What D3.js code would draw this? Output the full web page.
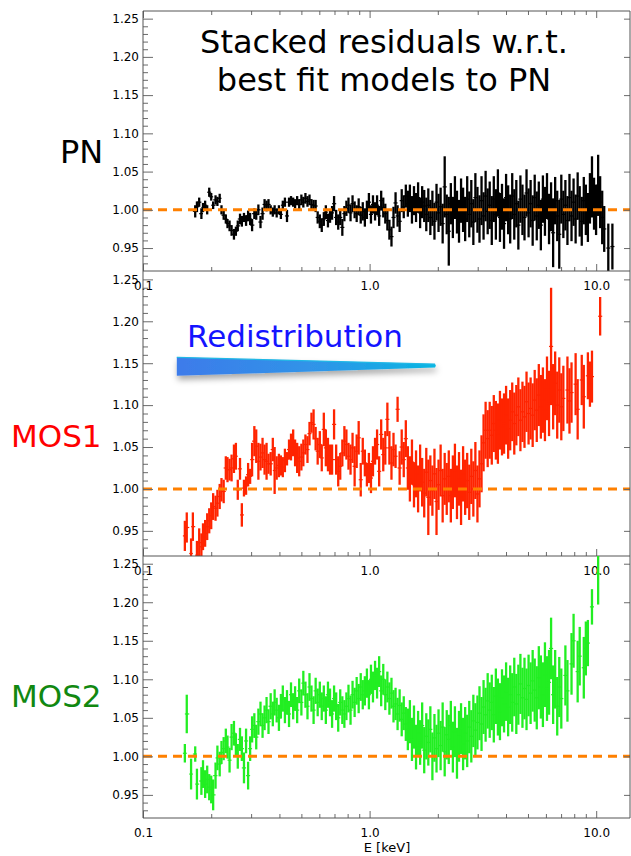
<!DOCTYPE html>
<html>
<head>
<meta charset="utf-8">
<script src="https://cdn.jsdelivr.net/npm/d3@7"></script>
<style>
  body { margin: 0; background: #fff; }
  svg { display: block; font-family: "DejaVu Sans", Verdana, sans-serif; }
</style>
</head>
<body>
<div id="chart"></div>
<script>
// channel energies (keV), shared by the three cameras
const energy = [
  0.150,0.153,0.156,0.160,0.163,0.166,0.170,0.173,0.177,0.181,
  0.184,0.188,0.192,0.196,0.200,0.204,0.209,0.213,0.218,0.222,
  0.227,0.232,0.236,0.241,0.246,0.252,0.257,0.262,0.268,0.273,
  0.279,0.285,0.291,0.297,0.303,0.310,0.316,0.323,0.330,0.337,
  0.344,0.351,0.358,0.366,0.374,0.381,0.389,0.398,0.406,0.414,
  0.423,0.432,0.441,0.450,0.460,0.469,0.479,0.489,0.500,0.510,
  0.521,0.532,0.543,0.554,0.566,0.578,0.590,0.603,0.615,0.628,
  0.641,0.655,0.669,0.683,0.697,0.712,0.727,0.742,0.758,0.774,
  0.790,0.807,0.824,0.841,0.859,0.877,0.895,0.914,0.933,0.953,
  0.973,0.993,1.014,1.035,1.057,1.079,1.102,1.125,1.149,1.173,
  1.198,1.223,1.249,1.275,1.302,1.329,1.357,1.386,1.415,1.445,
  1.475,1.506,1.538,1.570,1.603,1.637,1.671,1.706,1.742,1.779,
  1.816,1.854,1.893,1.933,1.974,2.015,2.058,2.101,2.145,2.190,
  2.236,2.283,2.331,2.380,2.430,2.481,2.533,2.586,2.641,2.696,
  2.753,2.811,2.870,2.930,2.992,3.055,3.119,3.184,3.251,3.320,
  3.389,3.461,3.533,3.608,3.683,3.761,3.840,3.920,4.003,4.087,
  4.173,4.260,4.350,4.441,4.534,4.630,4.727,4.826,4.927,5.031,
  5.136,5.244,5.354,5.467,5.582,5.699,5.819,5.941,6.066,6.193,
  6.323,6.456,6.591,6.730,6.871,7.015,7.163,7.313,7.467,7.623,
  7.783,7.947,8.114,8.284,8.458,8.636,8.817,9.002,9.191,9.384,
  9.581,9.783,9.988,10.20,10.41,10.63,10.85,11.08,11.31,11.55,
  11.79,12.04
];

// PN residuals (data / model) and 1-sigma errors
const pnRatio = [
  null,null,null,null,null,null,0.998,1.004,1.010,0.995,
  1.003,1.006,1.000,1.023,1.017,1.006,1.013,1.011,1.015,1.000,
  0.993,0.988,0.982,0.979,0.973,0.968,0.972,0.979,0.988,0.985,
  0.990,0.986,0.992,0.988,0.980,0.995,0.994,1.000,0.984,0.995,
  1.007,1.005,1.007,1.000,0.997,1.000,0.996,1.000,0.994,1.006,
  1.010,0.992,1.010,1.012,1.010,1.008,1.012,1.007,1.013,1.010,
  1.015,1.011,1.013,1.007,1.006,1.005,0.990,0.985,0.980,0.988,
  0.997,0.986,0.992,0.996,1.008,0.990,0.984,0.990,0.977,0.995,
  1.002,1.006,0.996,1.008,1.000,0.995,1.004,0.993,0.998,0.990,
  1.000,1.010,0.994,1.007,0.998,1.006,0.992,1.012,1.003,0.995,
  0.986,0.974,0.965,0.990,1.009,0.992,0.985,1.012,1.004,1.018,
  1.008,1.015,1.000,1.012,1.003,1.016,0.996,1.010,1.005,0.994,
  1.006,0.990,1.002,0.985,1.010,0.996,1.004,0.982,1.030,0.994,
  0.972,1.008,0.990,1.016,0.997,0.985,1.012,1.000,0.988,1.014,
  0.994,1.008,0.984,1.016,1.000,0.988,1.012,0.992,1.018,0.998,
  1.006,0.986,1.014,0.994,1.022,0.990,1.004,0.982,1.016,1.000,
  0.988,1.018,0.994,1.008,0.980,1.014,1.000,0.990,1.022,0.996,
  1.008,0.986,1.016,0.992,1.006,0.980,1.014,0.998,1.018,0.988,
  1.004,0.970,1.012,0.992,0.968,1.014,0.994,1.006,0.986,1.016,
  0.992,1.010,0.988,1.018,0.998,0.985,1.012,1.000,0.990,1.015,
  1.030,1.008,1.000,1.032,1.010,0.990,0.975,null,0.950,null,
  0.952,null
];
const pnErr = [
  null,null,null,null,null,null,0.008,0.007,0.006,0.007,
  0.006,0.006,0.006,0.006,0.005,0.005,0.006,0.006,0.006,0.006,
  0.006,0.006,0.006,0.007,0.007,0.007,0.006,0.007,0.007,0.007,
  0.006,0.007,0.007,0.008,0.008,0.007,0.007,0.007,0.008,0.008,
  0.007,0.007,0.007,0.006,0.006,0.006,0.006,0.006,0.006,0.006,
  0.006,0.008,0.006,0.006,0.006,0.006,0.006,0.007,0.007,0.007,
  0.007,0.007,0.007,0.007,0.007,0.008,0.008,0.009,0.009,0.009,
  0.009,0.009,0.009,0.009,0.010,0.010,0.010,0.010,0.011,0.010,
  0.010,0.010,0.011,0.011,0.011,0.011,0.011,0.011,0.012,0.012,
  0.012,0.012,0.012,0.012,0.012,0.013,0.013,0.013,0.013,0.013,
  0.013,0.013,0.013,0.014,0.014,0.014,0.014,0.015,0.015,0.015,
  0.017,0.018,0.018,0.019,0.019,0.020,0.020,0.021,0.021,0.022,
  0.022,0.023,0.023,0.024,0.024,0.025,0.025,0.026,0.040,0.026,
  0.045,0.027,0.027,0.028,0.028,0.028,0.029,0.029,0.029,0.030,
  0.030,0.031,0.030,0.032,0.030,0.031,0.032,0.031,0.033,0.030,
  0.031,0.032,0.030,0.033,0.031,0.032,0.030,0.033,0.031,0.032,
  0.032,0.030,0.033,0.031,0.032,0.031,0.033,0.030,0.031,0.032,
  0.031,0.033,0.030,0.032,0.031,0.033,0.031,0.032,0.030,0.033,
  0.032,0.045,0.031,0.033,0.045,0.032,0.031,0.033,0.032,0.031,
  0.033,0.031,0.032,0.031,0.033,0.032,0.031,0.033,0.032,0.033,
  0.040,0.034,0.033,0.040,0.034,0.035,0.030,null,0.032,null,
  0.030,null
];

// MOS1 residuals
const mos1Ratio = [
  null,0.944,0.954,null,0.923,0.955,null,0.921,0.936,0.931,
  0.943,0.947,0.955,0.962,0.968,0.979,0.977,0.983,0.991,0.999,
  0.997,1.025,1.023,1.023,1.025,1.036,1.039,0.999,1.024,0.969,
  1.001,1.004,1.017,1.015,1.035,1.057,1.051,1.033,1.038,1.043,
  1.035,1.033,1.030,1.030,1.047,1.022,1.025,1.028,1.028,1.026,
  1.034,1.036,1.047,1.050,1.055,1.043,1.037,1.033,1.038,1.043,
  1.053,1.047,1.066,1.079,1.077,1.060,1.045,1.053,1.037,1.071,
  1.049,1.041,1.035,1.035,1.077,1.035,1.021,1.027,1.043,1.057,
  1.053,1.039,1.035,1.049,1.027,1.045,1.061,1.011,1.045,1.031,
  1.017,1.025,1.013,1.033,1.045,1.053,1.021,1.065,1.041,1.049,
  1.083,1.049,1.031,1.047,1.039,1.095,1.025,1.050,1.035,1.060,
  1.025,1.012,1.032,1.005,1.018,1.000,1.025,1.008,0.995,1.020,
  0.990,1.010,0.998,1.018,0.985,1.005,1.022,0.992,1.012,1.000,
  1.015,0.992,1.008,1.022,0.996,1.012,0.990,1.018,1.002,1.010,
  0.996,1.015,1.000,1.022,0.994,1.012,1.030,1.055,1.070,1.060,
  1.070,1.064,1.078,1.070,1.066,1.082,1.074,1.078,1.088,1.072,
  1.082,1.092,1.078,1.088,1.098,1.082,1.092,1.086,1.104,1.090,
  1.096,1.088,1.106,1.094,1.112,1.098,1.106,1.094,1.120,1.102,
  1.170,1.110,1.126,1.100,1.118,1.098,1.108,null,1.118,1.105,
  1.115,null,1.125,1.095,null,1.130,1.110,null,1.135,1.125,
  1.134,null,null,null,1.206,null,null,null,null,null,
  null,null
];
const mos1Err = [
  null,0.018,0.018,null,0.018,0.017,null,0.017,0.017,0.016,
  0.016,0.016,0.016,0.015,0.016,0.016,0.015,0.016,0.015,0.014,
  0.014,0.014,0.015,0.013,0.016,0.017,0.016,0.012,0.013,0.014,
  0.010,0.011,0.014,0.009,0.020,0.018,0.020,0.022,0.016,0.018,
  0.018,0.022,0.012,0.014,0.014,0.028,0.014,0.014,0.012,0.012,
  0.014,0.008,0.012,0.016,0.016,0.016,0.018,0.018,0.016,0.016,
  0.012,0.016,0.014,0.012,0.018,0.014,0.016,0.016,0.016,0.020,
  0.022,0.020,0.018,0.018,0.018,0.018,0.018,0.016,0.016,0.018,
  0.018,0.016,0.018,0.018,0.024,0.020,0.020,0.020,0.016,0.016,
  0.014,0.018,0.018,0.018,0.016,0.018,0.018,0.018,0.020,0.020,
  0.020,0.020,0.020,0.020,0.014,0.015,0.020,0.021,0.021,0.022,
  0.026,0.027,0.027,0.027,0.028,0.028,0.028,0.029,0.029,0.029,
  0.045,0.030,0.030,0.030,0.040,0.030,0.031,0.032,0.031,0.031,
  0.031,0.032,0.032,0.032,0.032,0.032,0.033,0.033,0.033,0.033,
  0.033,0.033,0.033,0.034,0.034,0.034,0.034,0.034,0.034,0.034,
  0.034,0.035,0.034,0.035,0.036,0.035,0.034,0.036,0.035,0.036,
  0.036,0.035,0.037,0.036,0.035,0.037,0.036,0.037,0.036,0.037,
  0.037,0.038,0.036,0.038,0.037,0.038,0.039,0.037,0.038,0.039,
  0.070,0.039,0.038,0.040,0.039,0.040,0.039,null,0.040,0.039,
  0.036,null,0.037,0.036,null,0.030,0.038,null,0.028,0.027,
  0.031,null,null,null,0.023,null,null,null,null,null,
  null,null
];

// MOS2 residuals
const mos2Ratio = [
  null,1.004,1.055,null,0.977,null,1.003,0.964,null,0.968,
  0.977,0.964,0.970,0.960,0.957,0.950,0.975,0.998,0.990,1.005,
  1.010,1.020,1.012,0.995,1.025,1.030,1.015,1.000,1.022,1.010,
  0.985,1.020,0.975,1.010,1.035,1.040,1.025,1.045,1.055,1.040,
  1.050,1.060,1.045,1.065,1.055,1.070,1.060,1.050,1.065,1.075,
  1.060,1.070,1.055,1.080,1.065,1.075,1.060,1.085,1.070,1.095,
  1.080,1.065,1.090,1.075,1.060,1.085,1.070,1.080,1.065,1.075,
  1.060,1.080,1.070,1.055,1.075,1.065,1.050,1.070,1.060,1.055,
  1.065,1.075,1.060,1.080,1.070,1.085,1.075,1.090,1.080,1.085,
  1.095,1.080,1.100,1.090,1.105,1.095,1.110,1.085,1.100,1.080,
  1.090,1.075,1.082,1.065,1.068,1.055,1.066,1.048,1.056,1.042,
  1.035,1.045,1.022,1.038,1.012,1.030,1.018,1.040,1.008,1.026,
  1.018,1.035,1.000,1.024,1.010,1.030,1.014,1.038,1.006,1.028,
  1.022,1.040,1.012,1.032,1.004,1.026,1.036,1.016,1.030,1.020,
  1.038,1.026,1.046,1.034,1.044,1.056,1.042,1.064,1.054,1.072,
  1.060,1.070,1.054,1.078,1.064,1.058,1.076,1.068,1.084,1.064,
  1.080,1.070,1.090,1.068,1.080,1.094,1.076,1.088,1.074,1.092,
  1.082,1.098,1.086,1.076,1.102,1.090,1.080,1.106,1.088,1.096,
  1.140,1.080,1.100,1.065,1.090,1.075,null,1.105,1.085,null,
  1.120,1.150,null,1.110,1.130,null,1.115,1.140,1.147,null,
  1.194,null,null,1.237,null,null,null,null,null,null,
  null,null
];
const mos2Err = [
  null,0.012,0.025,null,0.020,null,0.010,0.020,null,0.018,
  0.018,0.018,0.018,0.017,0.018,0.020,0.017,0.016,0.016,0.015,
  0.015,0.016,0.015,0.016,0.017,0.016,0.015,0.016,0.015,0.016,
  0.020,0.016,0.018,0.016,0.017,0.016,0.016,0.017,0.016,0.016,
  0.016,0.017,0.016,0.017,0.016,0.017,0.016,0.017,0.016,0.017,
  0.017,0.016,0.017,0.016,0.017,0.016,0.017,0.016,0.017,0.016,
  0.017,0.017,0.018,0.017,0.018,0.017,0.018,0.017,0.018,0.017,
  0.018,0.017,0.018,0.018,0.017,0.018,0.018,0.017,0.018,0.018,
  0.018,0.018,0.019,0.018,0.019,0.018,0.019,0.018,0.019,0.019,
  0.019,0.019,0.019,0.020,0.019,0.020,0.020,0.020,0.020,0.020,
  0.020,0.021,0.020,0.021,0.021,0.021,0.021,0.022,0.022,0.022,
  0.027,0.028,0.028,0.028,0.029,0.029,0.029,0.030,0.030,0.030,
  0.030,0.030,0.031,0.031,0.031,0.031,0.032,0.032,0.032,0.032,
  0.032,0.032,0.033,0.033,0.033,0.033,0.033,0.034,0.034,0.034,
  0.034,0.034,0.034,0.035,0.035,0.035,0.035,0.035,0.035,0.036,
  0.036,0.036,0.036,0.036,0.037,0.037,0.037,0.037,0.038,0.038,
  0.038,0.038,0.038,0.039,0.039,0.039,0.039,0.040,0.040,0.040,
  0.040,0.040,0.041,0.041,0.041,0.041,0.042,0.042,0.042,0.042,
  0.040,0.038,0.038,0.038,0.039,0.039,null,0.039,0.040,null,
  0.040,0.035,null,0.040,0.038,null,0.040,0.035,0.030,null,
  0.023,null,null,0.040,null,null,null,null,null,null,
  null,null
];

// axes
const yTicks = [0.95, 1.00, 1.05, 1.10, 1.15, 1.20, 1.25];
const yMinorTicks = [0.93,0.94,0.96,0.97,0.98,0.99,1.01,1.02,1.03,1.04,1.06,1.07,1.08,1.09,
                     1.11,1.12,1.13,1.14,1.16,1.17,1.18,1.19,1.21,1.22,1.23,1.24];
const xTicks = [0.1, 1, 10];
const xTickLabels = ["0.1", "1.0", "10.0"];
const xMinorTicks = [0.2,0.3,0.4,0.5,0.6,0.7,0.8,0.9,2,3,4,5,6,7,8,9];

const width = 631, height = 856;
const plotLeft = 143, plotRight = 630;

let svg = d3.select('#chart')
  .append('svg')
  .attr('width', width)
  .attr('height', height)
  .style('background-color', 'white');

let defs = svg.append('defs');

// log energy axis shared by all panels
let x = d3.scaleLog().domain([0.1, 14.1]).range([plotLeft, plotRight]);

let panels = [
  {name: 'PN',   ratio: pnRatio,   err: pnErr,   color: '#000000', labelColor: '#000000', top: 11,  bottom: 271, lx: 60, ly: 163},
  {name: 'MOS1', ratio: mos1Ratio, err: mos1Err, color: '#ff2400', labelColor: '#ff0000', top: 271, bottom: 556, lx: 11, ly: 447},
  {name: 'MOS2', ratio: mos2Ratio, err: mos2Err, color: '#22ee22', labelColor: '#118811', top: 556, bottom: 818, lx: 11, ly: 707}
];

function styleAxis(g) {
  g.select('.domain').remove();
  g.selectAll('.tick line').attr('stroke', '#6a6a6a');
  g.selectAll('.tick text').attr('fill', '#000').attr('font-size', 12)
    .attr('font-family', '"DejaVu Sans", Verdana, sans-serif');
}

panels.forEach(function(p, k) {
  let y = d3.scaleLinear().domain([0.92, 1.26]).range([p.bottom, p.top]);
  p.y = y;

  defs.append('clipPath').attr('id', 'clip' + k)
    .append('rect')
    .attr('x', plotLeft).attr('y', p.top)
    .attr('width', plotRight - plotLeft).attr('height', p.bottom - p.top);

  let pts = [];
  energy.forEach(function(e, i) {
    if (p.ratio[i] != null) pts.push({e: e, i: i, r: p.ratio[i], s: p.err[i]});
  });

  let g = svg.append('g').attr('clip-path', 'url(#clip' + k + ')');

  // vertical error bars
  g.selectAll('.ebar').data(pts).enter().append('line')
    .attr('class', 'ebar')
    .attr('x1', d => x(d.e)).attr('x2', d => x(d.e))
    .attr('y1', d => y(d.r - d.s)).attr('y2', d => y(d.r + d.s))
    .attr('stroke', p.color).attr('stroke-width', 2.3);

  // channel width
  g.selectAll('.bin').data(pts).enter().append('line')
    .attr('class', 'bin')
    .attr('x1', d => x(energy[Math.max(d.i - 1, 0)]))
    .attr('x2', d => x(energy[Math.min(d.i + 1, energy.length - 1)]))
    .attr('y1', d => y(d.r)).attr('y2', d => y(d.r))
    .attr('stroke', p.color).attr('stroke-width', 1.2);

  // unity line
  g.append('line')
    .attr('x1', plotLeft).attr('x2', plotRight)
    .attr('y1', y(1)).attr('y2', y(1))
    .attr('stroke', '#ff8000').attr('stroke-width', 3)
    .attr('stroke-dasharray', '9,6');

  // left axis, ticks pointing inward
  svg.append('g').attr('transform', 'translate(' + plotLeft + ',0)')
    .call(d3.axisLeft(y).tickValues(yTicks).tickSize(-10).tickPadding(4).tickFormat(d3.format('.2f')))
    .call(styleAxis);
  svg.append('g').attr('transform', 'translate(' + plotLeft + ',0)')
    .call(d3.axisLeft(y).tickValues(yMinorTicks).tickSize(-5).tickFormat(''))
    .call(styleAxis);
  // right axis
  svg.append('g').attr('transform', 'translate(' + plotRight + ',0)')
    .call(d3.axisRight(y).tickValues(yTicks).tickSize(-6).tickFormat(''))
    .call(styleAxis);

  // bottom axis
  svg.append('g').attr('transform', 'translate(0,' + p.bottom + ')')
    .call(d3.axisBottom(x).tickValues(xTicks).tickSize(-7).tickPadding(10.5)
      .tickFormat((d, i) => xTickLabels[i]))
    .call(styleAxis);
  svg.append('g').attr('transform', 'translate(0,' + p.bottom + ')')
    .call(d3.axisBottom(x).tickValues(xMinorTicks).tickSize(-4).tickFormat(''))
    .call(styleAxis);

  if (k === 0) {
    svg.append('g').attr('transform', 'translate(0,' + p.top + ')')
      .call(d3.axisTop(x).tickValues(xTicks).tickSize(-7).tickFormat(''))
      .call(styleAxis);
    svg.append('g').attr('transform', 'translate(0,' + p.top + ')')
      .call(d3.axisTop(x).tickValues(xMinorTicks).tickSize(-4).tickFormat(''))
      .call(styleAxis);
  }

  // frame
  svg.append('line').attr('x1', plotLeft).attr('x2', plotRight)
    .attr('y1', p.bottom).attr('y2', p.bottom)
    .attr('stroke', '#555').attr('stroke-width', 1);
  if (k === 0) {
    svg.append('line').attr('x1', plotLeft).attr('x2', plotRight)
      .attr('y1', p.top).attr('y2', p.top)
      .attr('stroke', '#555').attr('stroke-width', 1);
  }

  // camera label
  svg.append('text')
    .attr('x', p.lx).attr('y', p.ly)
    .attr('font-size', p.name === 'PN' ? 32 : 31)
    .attr('fill', p.labelColor)
    .text(p.name);
});

svg.append('line').attr('x1', plotLeft).attr('x2', plotLeft)
  .attr('y1', panels[0].top).attr('y2', panels[2].bottom)
  .attr('stroke', '#555').attr('stroke-width', 1);
svg.append('line').attr('x1', plotRight).attr('x2', plotRight)
  .attr('y1', panels[0].top).attr('y2', panels[2].bottom)
  .attr('stroke', '#555').attr('stroke-width', 1);

// title
svg.append('text').attr('x', 384).attr('y', 53).attr('text-anchor', 'middle')
  .attr('font-size', 32).attr('fill', '#000').text('Stacked residuals w.r.t.');
svg.append('text').attr('x', 384).attr('y', 91).attr('text-anchor', 'middle')
  .attr('font-size', 32).attr('fill', '#000').text('best fit models to PN');

// x label
svg.append('text').attr('x', 387).attr('y', 852).attr('text-anchor', 'middle')
  .attr('font-size', 13).attr('fill', '#000').text('E [keV]');

// redistribution annotation in the MOS1 panel
let y2 = panels[1].y;
let grad = defs.append('linearGradient').attr('id', 'wedgeFill')
  .attr('x1', '0%').attr('x2', '100%').attr('y1', '0%').attr('y2', '0%');
grad.append('stop').attr('offset', '0%').attr('stop-color', '#3d7bea');
grad.append('stop').attr('offset', '55%').attr('stop-color', '#2f95e8');
grad.append('stop').attr('offset', '100%').attr('stop-color', '#08b6e2');

let shadow = defs.append('filter').attr('id', 'wedgeShadow')
  .attr('x', '-10%').attr('y', '-50%').attr('width', '120%').attr('height', '250%');
shadow.append('feDropShadow').attr('dx', 1).attr('dy', 4).attr('stdDeviation', 3)
  .attr('flood-color', '#000').attr('flood-opacity', 0.35);

let wedge = [[0.141, 1.157], [1.945, 1.149], [1.96, 1.147], [1.945, 1.145], [0.141, 1.135]];
svg.append('polygon')
  .attr('points', wedge.map(d => x(d[0]) + ',' + y2(d[1])).join(' '))
  .attr('fill', 'url(#wedgeFill)')
  .attr('filter', 'url(#wedgeShadow)');
svg.append('line')
  .attr('x1', x(0.141)).attr('y1', y2(1.157)).attr('x2', x(1.945)).attr('y2', y2(1.149))
  .attr('stroke', '#1fb8e6').attr('stroke-width', 1.2);

svg.append('text').attr('x', 187).attr('y', 347)
  .attr('font-size', 31).attr('fill', '#1414ff').text('Redistribution');

// sanity check on hand-typed arrays
[pnRatio, pnErr, mos1Ratio, mos1Err, mos2Ratio, mos2Err].forEach(function(a, i) {
  if (a.length !== energy.length) {
    svg.append('text').attr('x', 5).attr('y', 840 - i * 12).attr('font-size', 10)
      .attr('fill', 'magenta').text('len ' + i + ': ' + a.length + ' vs ' + energy.length);
  }
});
</script>
</body>
</html>
